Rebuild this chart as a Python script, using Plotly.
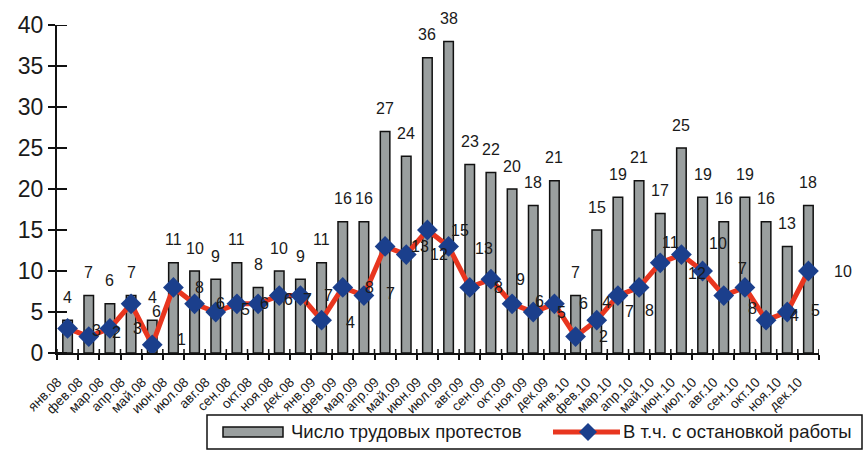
import plotly.graph_objects as go

# Monthly labour protests in Russia, 2008-2010
months = [
    "янв.08", "фев.08", "мар.08", "апр.08", "май.08", "июн.08",
    "июл.08", "авг.08", "сен.08", "окт.08", "ноя.08", "дек.08",
    "янв.09", "фев.09", "мар.09", "апр.09", "май.09", "июн.09",
    "июл.09", "авг.09", "сен.09", "окт.09", "ноя.09", "дек.09",
    "янв.10", "фев.10", "мар.10", "апр.10", "май.10", "июн.10",
    "июл.10", "авг.10", "сен.10", "окт.10", "ноя.10", "дек.10",
]
protests = [4, 7, 6, 7, 4, 11, 10, 9, 11, 8, 10, 9,
            11, 16, 16, 27, 24, 36, 38, 23, 22, 20, 18, 21,
            7, 15, 19, 21, 17, 25, 19, 16, 19, 16, 13, 18]
with_stoppage = [3, 2, 3, 6, 1, 8, 6, 5, 6, 6, 7, 7,
                 4, 8, 7, 13, 12, 15, 13, 8, 9, 6, 5, 6,
                 2, 4, 7, 8, 11, 12, 10, 7, 8, 4, 5, 10]
y_ticks = [0, 5, 10, 15, 20, 25, 30, 35, 40]

# screen-pixel nudges (dx right, dy down) for the stoppage value labels
stop_label_nudge = [
    (29, 2), (28, -4), (28, 0), (25, 8), (29, -5), (26, 0),
    (26, 0), (30, -3), (28, 0), (30, -4), (28, 4), (28, 0),
    (29, 2), (27, 0), (27, -2), (35, 0), (33, 0), (33, 0),
    (35, 2), (29, 0), (30, 0), (27, -2), (28, 0), (29, 0),
    (28, 0), (10, -18), (12, 16), (10, 23), (10, -20), (16, 19),
    (15, -28), (19, -27), (8, 21), (28, -5), (28, -2), (35, 0),
]

W, H = 868, 451
ML, MR, MT, MB = 57, 49, 25, 98
PW, PH = W - ML - MR, H - MT - MB

BAR_GRAY = "#9a9f9f"
RED = "#e8361f"
BLUE = "#1b3f8c"
INK = "#1a1a1a"
FONT = "Liberation Sans, Arial, sans-serif"


def px_x(px):
    return (px - ML) / PW


def px_y(py):
    return (H - MB - py) / PH


fig = go.Figure()

fig.add_trace(go.Bar(
    x=months, y=protests, name="Число трудовых протестов",
    width=0.45,
    marker=dict(color=BAR_GRAY, line=dict(color="#111111", width=1.5)),
    showlegend=False,
))

fig.add_trace(go.Scatter(
    x=months, y=with_stoppage, name="В т.ч. с остановкой работы",
    mode="lines+markers",
    line=dict(color=RED, width=5),
    marker=dict(symbol="diamond", size=16, color=BLUE),
    showlegend=False,
))

annotations = []
for m, v in zip(months, protests):
    annotations.append(dict(
        x=m, y=v, text=str(v), showarrow=False, yshift=23,
        font=dict(size=16, color=INK, family=FONT),
    ))
for m, v, (dx, dy) in zip(months, with_stoppage, stop_label_nudge):
    annotations.append(dict(
        x=m, y=v, text=str(v), showarrow=False, xshift=dx, yshift=-dy,
        font=dict(size=16, color=INK, family=FONT),
    ))

# legend box drawn by hand
annotations.append(dict(
    xref="paper", yref="paper", x=px_x(289), y=px_y(432),
    xanchor="left", yanchor="middle", showarrow=False,
    text="Число трудовых протестов",
    font=dict(size=18.5, color=INK, family=FONT),
))
annotations.append(dict(
    xref="paper", yref="paper", x=px_x(621), y=px_y(432),
    xanchor="left", yanchor="middle", showarrow=False,
    text="В т.ч. с остановкой работы",
    font=dict(size=18.5, color=INK, family=FONT),
))

shapes = []
# inner halves of the y-axis ticks
for t in y_ticks:
    shapes.append(dict(
        type="line", xref="paper", yref="y", xsizemode="pixel", xanchor=0,
        x0=0, x1=10, y0=t, y1=t, line=dict(color="#111111", width=2),
    ))
# inner halves of the category boundary ticks
for i in range(len(months) + 1):
    shapes.append(dict(
        type="line", xref="x", yref="y", ysizemode="pixel", yanchor=0,
        x0=i - 0.5, x1=i - 0.5, y0=0, y1=4, line=dict(color="#111111", width=1.5),
    ))
shapes += [
    dict(type="rect", xref="paper", yref="paper", layer="above",
         x0=px_x(207), x1=px_x(862), y0=px_y(449), y1=px_y(415),
         line=dict(color="#111111", width=1.5), fillcolor="white"),
    dict(type="rect", xref="paper", yref="paper", layer="above",
         x0=px_x(223), x1=px_x(283), y0=px_y(437), y1=px_y(427),
         line=dict(color="#111111", width=1.5), fillcolor=BAR_GRAY),
    dict(type="line", xref="paper", yref="paper", layer="above",
         x0=px_x(553), x1=px_x(620), y0=px_y(432), y1=px_y(432),
         line=dict(color=RED, width=5)),
    dict(type="path", xref="paper", yref="paper", layer="above",
         xsizemode="pixel", ysizemode="pixel",
         xanchor=px_x(588), yanchor=px_y(432),
         path="M0,-9 L9,0 L0,9 L-9,0 Z",
         line=dict(width=0), fillcolor=BLUE),
]

fig.update_layout(
    width=W, height=H,
    margin=dict(l=ML, r=MR, t=MT, b=MB),
    paper_bgcolor="white", plot_bgcolor="white",
    font=dict(family=FONT, color=INK),
    bargap=0.5,
    showlegend=False,
    annotations=annotations,
    shapes=shapes,
)
fig.update_xaxes(
    type="category", categoryorder="array", categoryarray=months,
    range=[-0.5, len(months) - 0.5],
    showline=True, linecolor="#111111", linewidth=2,
    ticks="outside", ticklen=5, tickwidth=1.5, tickcolor="#111111",
    tickson="boundaries", tickangle=-45,
    ticklabelstandoff=14, ticklabelshift=-10,
    tickfont=dict(size=13.5, color=INK, family=FONT),
    showgrid=False, zeroline=False,
)
fig.update_yaxes(
    range=[0, 40], tickvals=y_ticks,
    showline=True, linecolor="#111111", linewidth=2,
    ticks="outside", ticklen=7, tickwidth=2, tickcolor="#111111",
    tickfont=dict(size=23, color=INK, family=FONT),
    showgrid=False, zeroline=False,
)

fig.write_html("out.html")
